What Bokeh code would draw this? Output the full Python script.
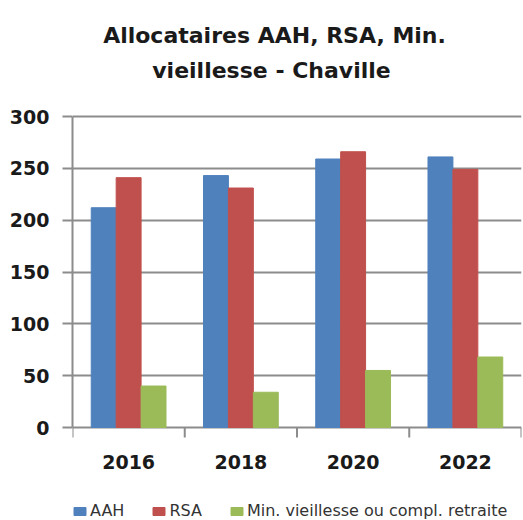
from bokeh.plotting import figure
from bokeh.models import (Range1d, FixedTicker, Legend, LegendItem, Label, ColumnDataSource)
from bokeh.core.properties import value
from bokeh.transform import dodge
from bokeh.embed import file_html
from bokeh.resources import INLINE

# ---- data ----
years = ["2016", "2018", "2020", "2022"]
aah = [212, 243, 259, 261]
rsa = [241, 231, 266, 249]
min_vieillesse = [40, 34, 55, 68]
series_names = ["AAH", "RSA", "Min. vieillesse ou compl. retraite"]
y_ticks = [0, 50, 100, 150, 200, 250, 300]
title_lines = ["Allocataires AAH, RSA, Min.", "vieillesse - Chaville"]

# ---- style / layout ----
colors = ["#4F81BD", "#C0504D", "#9BBB59"]
grid_color = "#8C8C8C"
text_color = "#1a1a1a"
FONT = "DejaVu Sans"
W, H = 523, 520
BAR_W = 0.222
PX_LEFT, PX_RIGHT = 72, W - 2            # frame edges (pixels)
PX_ZERO, PX_TOP_TICK = 427, 116          # pixel rows of value 0 and of the top tick
Y_AXIS_MAX = y_ticks[-1]
px_per_unit = (PX_ZERO - PX_TOP_TICK) / Y_AXIS_MAX


def y_at_px(py):
    return (PX_ZERO - py) / px_per_unit


n = len(years)
centers = [i + 0.5 for i in range(n)]      # category slot centres
bounds = list(range(n + 1))                # category slot boundaries

# frame spans the full height so the title, category labels and legend live inside it
p = figure(width=W, height=H, x_range=Range1d(0, n), y_range=Range1d(y_at_px(H), y_at_px(0)),
           output_backend="svg", toolbar_location=None, x_axis_location=None,
           min_border_left=PX_LEFT, min_border_right=W - PX_RIGHT, min_border_top=0,
           min_border_bottom=0)
p.outline_line_color = None
p.background_fill_color = "white"
p.border_fill_color = "white"

src = ColumnDataSource(dict(x=centers, year=years, aah=aah, rsa=rsa, mv=min_vieillesse))
renderers = []
for i, col in enumerate(["aah", "rsa", "mv"]):
    r = p.vbar(x=dodge("x", (i - 1) * BAR_W), top=col, width=BAR_W,
               source=src, fill_color=colors[i], line_color=colors[i])
    renderers.append(r)

# y axis
p.yaxis.ticker = FixedTicker(ticks=y_ticks)
p.yaxis.bounds = (0, Y_AXIS_MAX)
p.yaxis.major_tick_out = 10
p.yaxis.major_tick_in = 0
p.yaxis.minor_tick_line_color = None
p.yaxis.major_label_standoff = 13
p.yaxis.axis_line_color = grid_color
p.yaxis.axis_line_width = 2
p.yaxis.major_tick_line_color = grid_color
p.yaxis.major_tick_line_width = 2
p.yaxis.major_label_text_font = FONT
p.yaxis.major_label_text_font_style = "bold"
p.yaxis.major_label_text_font_size = "19px"
p.yaxis.major_label_text_color = text_color

p.xgrid.visible = False
p.ygrid.ticker = FixedTicker(ticks=y_ticks)
p.ygrid.grid_line_color = grid_color
p.ygrid.grid_line_width = 2

# category boundary tick marks under the baseline
tick_src = ColumnDataSource(dict(x=bounds))
p.segment(x0="x", x1="x", y0=0, y1=y_at_px(437), source=tick_src,
          line_color=grid_color, line_width=2)

# category labels
p.text(x="x", y=y_at_px(461), text="year", source=src, text_align="center",
       text_baseline="middle", text_font=value(FONT), text_font_style="bold",
       text_font_size="19px", text_color=text_color)

# title (two lines)
for txt, px_x, px_y in zip(title_lines, [274, 271], [35, 70]):
    p.add_layout(Label(x=(px_x - PX_LEFT) / (PX_RIGHT - PX_LEFT) * n, y=y_at_px(px_y), text=txt,
                       text_align="center", text_baseline="middle", text_font=FONT,
                       text_font_style="bold", text_font_size="22px", text_color=text_color))

legend = Legend(items=[LegendItem(label=nm, renderers=[r]) for nm, r in zip(series_names, renderers)],
                orientation="horizontal", location=(0, 0), border_line_color=None,
                background_fill_alpha=0, padding=0, margin=0, spacing=27,
                glyph_width=15, glyph_height=10, label_standoff=3, label_height=12,
                label_text_font=FONT, label_text_font_size="16px", label_text_color="#333333")
p.add_layout(legend, "center")

open("out.html", "w").write(file_html(p, INLINE))
